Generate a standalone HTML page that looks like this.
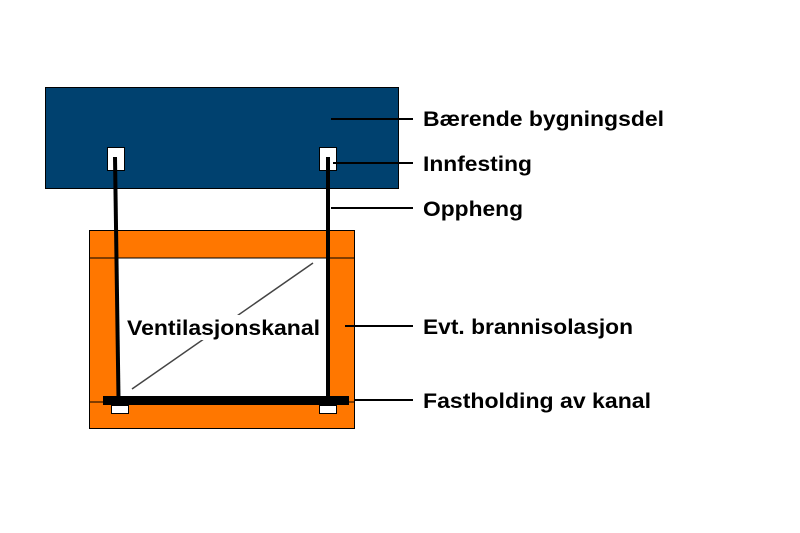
<!DOCTYPE html>
<html><head><meta charset="utf-8"><style>html,body{margin:0;padding:0;background:#fff}svg{display:block}</style></head>
<body>
<svg width="800" height="533" viewBox="0 0 800 533" xmlns="http://www.w3.org/2000/svg" font-family="Liberation Sans, Arial, sans-serif" font-weight="bold">
<rect x="45.5" y="87.5" width="353" height="101" fill="#00416f" stroke="#000" stroke-width="1"/>
<rect x="107.5" y="147.5" width="17" height="23" fill="#fff" stroke="#000" stroke-width="1"/>
<rect x="319.5" y="147.5" width="17" height="23" fill="#fff" stroke="#000" stroke-width="1"/>
<rect x="89.5" y="230.5" width="265" height="198" fill="#ff7700" stroke="#000" stroke-width="1"/>
<rect x="118" y="258" width="210" height="140" fill="#fff"/>
<line x1="89" y1="258" x2="355" y2="258" stroke="#000" stroke-width="1"/>
<line x1="89" y1="402" x2="355" y2="402" stroke="#000" stroke-width="1"/>
<line x1="132" y1="389" x2="313" y2="263" stroke="#444" stroke-width="1.5"/>
<line x1="115" y1="157" x2="118.5" y2="398" stroke="#000" stroke-width="4"/>
<line x1="328" y1="157" x2="328" y2="398" stroke="#000" stroke-width="4"/>
<rect x="103" y="396" width="246" height="9" fill="#000"/>
<rect x="111.5" y="405.5" width="17" height="8" fill="#fff" stroke="#000" stroke-width="1"/>
<rect x="319.5" y="405.5" width="17" height="8" fill="#fff" stroke="#000" stroke-width="1"/>
<rect x="125" y="315" width="197" height="25" fill="#fff"/>
<text x="127" y="335" font-size="21" textLength="193" lengthAdjust="spacingAndGlyphs">Ventilasjonskanal</text>
<g stroke="#000" stroke-width="2">
<line x1="331" y1="119" x2="413" y2="119"/>
<line x1="333" y1="163" x2="413" y2="163"/>
<line x1="331" y1="208" x2="413" y2="208"/>
<line x1="345" y1="326" x2="413" y2="326"/>
<line x1="355" y1="400" x2="413" y2="400"/>
</g>
<g font-size="21" fill="#000">
<text x="423" y="126" textLength="241" lengthAdjust="spacingAndGlyphs">Bærende bygningsdel</text>
<text x="423" y="171" textLength="109" lengthAdjust="spacingAndGlyphs">Innfesting</text>
<text x="423" y="216" textLength="100" lengthAdjust="spacingAndGlyphs">Oppheng</text>
<text x="423" y="334" textLength="210" lengthAdjust="spacingAndGlyphs">Evt. brannisolasjon</text>
<text x="423" y="408" textLength="228" lengthAdjust="spacingAndGlyphs">Fastholding av kanal</text>
</g>
</svg>
</body></html>
